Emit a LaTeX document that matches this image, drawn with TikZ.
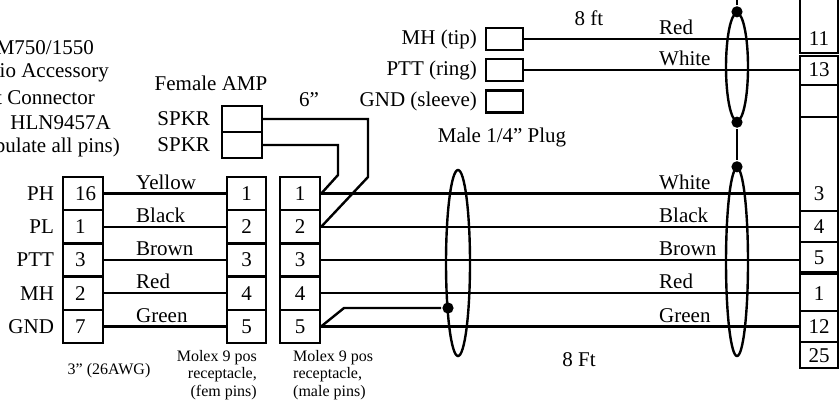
\documentclass[tikz,border=0pt]{standalone}
\usepackage{fontspec}
\setmainfont{Liberation Serif}
\usetikzlibrary{positioning,shapes.geometric}

\begin{document}
\begin{tikzpicture}[x=0.5pt,y=-0.5pt,line width=1.2pt,node distance=16.6pt,on grid,
   every node/.style={font=\fontsize{10.5}{12.4}\selectfont},
   pincell/.style={draw,minimum width=20pt,minimum height=16.6pt,inner sep=0pt},
   radiopin/.style={pincell,text width=8pt,inner xsep=6pt,align=left},
   plugbox/.style={draw,minimum width=18.5pt,minimum height=11pt,inner sep=0pt},
   spkbox/.style={draw,minimum width=20pt,minimum height=13pt,inner sep=0pt},
   wirelbl/.style={anchor=south west,inner xsep=0pt,inner ysep=1.5pt},
   ttl/.style={anchor=east,inner sep=0pt},
   small/.style={font=\fontsize{8}{8.75}\selectfont,inner xsep=0pt},
   shield/.style={draw,ellipse,inner sep=0pt},
   jdot/.style={circle,fill,inner sep=0pt,minimum size=5.6pt}]
   \useasboundingbox (0,0) rectangle (840,403);

   % radio side
   \node[ttl] (t1) at (95,48) {M750/1550};
   \node[ttl] (t2) at (110,73) {io Accessory};
   \node[ttl] (t3) at (96,98) {t Connector};
   \node[ttl] (t4) at (112,123) {HLN9457A};
   \node[ttl] (t5) at (121,147) {pulate all pins)};

   \node[radiopin,label=left:PH] (rp1) at (83,193.6) {16};
   \node[radiopin,label=left:PL] (rp2) [below=of rp1] {1};
   \node[radiopin,label=left:PTT] (rp3) [below=of rp2] {3};
   \node[radiopin,label=left:MH] (rp4) [below=of rp3] {2};
   \node[radiopin,label=left:GND] (rp5) [below=of rp4] {7};

   % molex pair
   \node[pincell,minimum width=19.5pt] (fm1) at (246.5,193.6) {1};
   \node[pincell,minimum width=19.5pt] (fm2) [below=of fm1] {2};
   \node[pincell,minimum width=19.5pt] (fm3) [below=of fm2] {3};
   \node[pincell,minimum width=19.5pt] (fm4) [below=of fm3] {4};
   \node[pincell,minimum width=19.5pt] (fm5) [below=of fm4] {5};

   \node[pincell] (mm1) at (300,193.6) {1};
   \node[pincell] (mm2) [below=of mm1] {2};
   \node[pincell] (mm3) [below=of mm2] {3};
   \node[pincell] (mm4) [below=of mm3] {4};
   \node[pincell] (mm5) [below=of mm4] {5};

   \draw (rp1.east) -- (fm1.west);
   \draw (rp2.east) -- (fm2.west);
   \draw (rp3.east) -- (fm3.west);
   \draw (rp4.east) -- (fm4.west);
   \draw (rp5.east) -- (fm5.west);
   \node[wirelbl] (wl1) at (135,193.6) {Yellow};
   \node[wirelbl] (wl2) at (135,226.8) {Black};
   \node[wirelbl] (wl3) at (135,260) {Brown};
   \node[wirelbl] (wl4) at (135,293.2) {Red};
   \node[wirelbl] (wl5) at (135,326.4) {Green};

   \node[small] (awg) at (109,371) {3” (26AWG)};
   \node[small,align=right,anchor=east] (fmtxt) at (258,375) {Molex 9 pos\\receptacle,\\(fem pins)};
   \node[small,align=left,anchor=west] (mmtxt) at (292,375) {Molex 9 pos\\receptacle,\\(male pins)};

   % speaker
   \node (amp) at (211,83) {Female AMP};
   \node[spkbox,label={[label distance=1.5pt]left:SPKR}] (spk1) at (242,119) {};
   \node[spkbox,label={[label distance=1.5pt]left:SPKR}] (spk2) [below=13pt of spk1] {};
   \node (len6) at (309,100) {6”};
   \draw (spk1.east) -| (368,177) -- (mm2.east);
   \draw (spk2.east) -| (338,175) -- (mm1.east);

   % plug
   \node[plugbox,label={left:MH (tip)}] (tip) at (504.5,39) {};
   \node[plugbox,label={left:PTT (ring)}] (ring) [below=15.6pt of tip] {};
   \node[plugbox,label={left:GND (sleeve)}] (sleeve) [below=15.6pt of ring] {};
   \node (plug) at (502,137) {Male 1/4” Plug};
   \node (len8a) at (589,18) {8 ft};
   \node (len8b) at (579,360) {8 Ft};

   % accessory connector
   \coordinate (rc) at (800,0);
   \draw (800,-5) rectangle (838,53);
   \draw (800,56) rectangle (838,85);
   \draw (800,85) rectangle (838,117);
   \draw (800,117) rectangle (838,211);
   \draw (800,211) rectangle (838,242);
   \draw (800,242) rectangle (838,272);
   \draw (800,274) rectangle (838,311);
   \draw (800,311) rectangle (838,342);
   \draw (800,342) rectangle (838,368);
   \node (n11) at (819,39) {11};
   \node (n13) at (819,70) {13};
   \node (n3) at (819,193.6) {3};
   \node (n4) at (819,226.8) {4};
   \node (n5) at (819,258) {5};
   \node (n1) at (819,294) {1};
   \node (n12) at (819,326.4) {12};
   \node (n25) at (819,356) {25};

   \draw (tip.east) -- (tip.east -| rc);
   \draw (ring.east) -- (ring.east -| rc);
   \draw (mm1.east) -- (mm1.east -| rc);
   \draw (mm2.east) -- (mm2.east -| rc);
   \draw (mm3.east) -- (mm3.east -| rc);
   \draw (mm4.east) -- (mm4.east -| rc);
   \draw (mm5.east) -- (mm5.east -| rc);
   \node[wirelbl] (wr0) at (658,39) {Red};
   \node[wirelbl] (wr00) at (658,70) {White};
   \node[wirelbl] (wr1) at (658,193.6) {White};
   \node[wirelbl] (wr2) at (658,226.8) {Black};
   \node[wirelbl] (wr3) at (658,260) {Brown};
   \node[wirelbl] (wr4) at (658,293.2) {Red};
   \node[wirelbl] (wr5) at (658,326.4) {Green};

   % shields
   \node[shield,minimum width=12pt,minimum height=93pt] (shL) at (458,263) {};
   \node[shield,minimum width=11pt,minimum height=94pt] (shR) at (737,262) {};
   \node[shield,minimum width=11pt,minimum height=54pt] (shT) at (737,67) {};
   \node[jdot] (dL) at (448,308) {};
   \node[jdot] (dT1) at (shT.north) {};
   \node[jdot] (dT2) at (shT.south) {};
   \node[jdot] (dR) at (shR.north) {};
   \coordinate (drain) at (737,-10);
   \draw (dT1) -- (drain);
   \draw (dT2) -- (dR);
   \draw (mm5.east) -- (344,308) -- (dL);
\end{tikzpicture}
\end{document}
